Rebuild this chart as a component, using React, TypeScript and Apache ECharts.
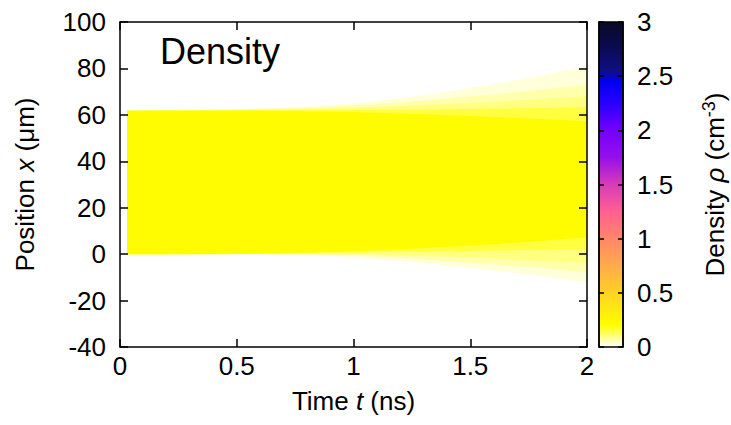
import React, { useEffect, useRef } from "react";
import * as echarts from "echarts";

// Time samples (ns) at which the density band edges were read
const TIMES = [0.03, 0.2, 0.4, 0.6, 0.8, 1.0, 1.2, 1.4, 1.6, 1.8, 2.0];

// Density level of each nested band (outer -> inner core)
const BAND_DENSITY = [0.03, 0.065, 0.1, 0.15, 0.22];

// Upper edge (µm) of each band at TIMES
const BAND_UPPER = [
  [62.0, 62.1, 62.3, 62.7, 63.6, 65.0, 67.2, 70.0, 73.2, 76.8, 81.0],
  [61.9, 62.0, 62.2, 62.5, 63.1, 64.0, 65.3, 67.0, 68.8, 70.8, 73.0],
  [61.9, 62.0, 62.1, 62.3, 62.6, 63.0, 63.8, 64.7, 65.7, 66.8, 68.0],
  [61.8, 61.9, 62.0, 62.1, 62.1, 62.1, 62.2, 62.4, 62.6, 63.0, 63.5],
  [61.8, 61.8, 61.8, 61.8, 61.6, 61.2, 60.6, 59.9, 59.1, 58.2, 57.2],
];

// Lower edge (µm) of each band at TIMES
const BAND_LOWER = [
  [0.0, 0.0, 0.0, -0.1, -0.5, -1.3, -2.8, -4.8, -7.0, -9.4, -12.0],
  [0.0, 0.0, 0.0, 0.0, -0.2, -0.6, -1.6, -2.9, -4.4, -6.0, -7.8],
  [0.0, 0.0, 0.0, 0.1, 0.1, 0.0, -0.4, -1.0, -1.8, -2.8, -3.8],
  [0.0, 0.0, 0.1, 0.2, 0.4, 0.7, 1.0, 1.3, 1.6, 1.9, 2.2],
  [0.0, 0.0, 0.1, 0.3, 0.7, 1.3, 2.1, 3.1, 4.3, 5.7, 7.2],
];

// Colour palette of the density scale
const PALETTE_STOPS: [number, number[]][] = [
  [0.0, [255, 255, 255]],
  [0.2, [255, 255, 0]],
  [0.5, [255, 210, 35]],
  [0.75, [255, 170, 75]],
  [1.0, [255, 135, 105]],
  [1.25, [255, 95, 145]],
  [1.5, [215, 60, 185]],
  [1.75, [150, 15, 235]],
  [2.0, [115, 0, 255]],
  [2.25, [40, 0, 255]],
  [2.45, [0, 0, 240]],
  [2.55, [15, 15, 130]],
  [2.8, [10, 10, 75]],
  [3.0, [10, 10, 35]],
];

const DENSITY_MIN = 0;
const DENSITY_MAX = 3;

const FONT = "'Liberation Sans', Arial, Helvetica, sans-serif";
const FS = 26;

function paletteColor(v: number): string {
  for (let i = 0; i < PALETTE_STOPS.length - 1; i++) {
    const [a, ca] = PALETTE_STOPS[i];
    const [b, cb] = PALETTE_STOPS[i + 1];
    if (v >= a && v <= b) {
      const f = (v - a) / (b - a);
      const c = ca.map((x, k) => Math.round(x + (cb[k] - x) * f));
      return `rgb(${c[0]},${c[1]},${c[2]})`;
    }
  }
  const c = PALETTE_STOPS[PALETTE_STOPS.length - 1][1];
  return `rgb(${c[0]},${c[1]},${c[2]})`;
}

export default function App() {
  const ref = useRef<HTMLDivElement>(null);

  useEffect(() => {
    document.body.style.margin = "0";
    if (!ref.current) return;
    const chart = echarts.init(ref.current, null, { renderer: "svg" });

    const vmColors: string[] = [];
    for (let i = 0; i <= 120; i++) vmColors.push(paletteColor((i / 120) * DENSITY_MAX));

    const gradStops = PALETTE_STOPS.map(([v, c]) => ({
      offset: v / DENSITY_MAX,
      color: `rgb(${c[0]},${c[1]},${c[2]})`,
    }));

    const axisLine = { show: true, onZero: false, lineStyle: { color: "#000", width: 1.5 } };
    const tickLabel = { color: "#000", fontSize: FS, fontFamily: FONT };
    const italic = { fontStyle: "italic", fontSize: FS, fontFamily: FONT, color: "#000" };

    const option: any = {
      animation: false,
      backgroundColor: "#fff",
      grid: [
        { left: 120, top: 22, width: 467, height: 325, outerBoundsMode: "none", containLabel: false },
        {
          left: 599,
          top: 22,
          width: 24,
          height: 325,
          show: true,
          borderColor: "#000",
          borderWidth: 1.5,
          backgroundColor: "transparent",
          outerBoundsMode: "none",
          containLabel: false,
        },
      ],
      visualMap: {
        show: false,
        type: "continuous",
        min: DENSITY_MIN,
        max: DENSITY_MAX,
        dimension: 1,
        seriesIndex: 0,
        inRange: { color: vmColors },
      },
      xAxis: [
        {
          gridIndex: 0,
          type: "value",
          min: 0,
          max: 2,
          interval: 0.5,
          position: "bottom",
          z: 10,
          axisLine,
          axisTick: { show: true, inside: true, length: 8, lineStyle: { color: "#000", width: 1.5 } },
          splitLine: { show: false },
          axisLabel: { ...tickLabel, margin: 6 },
          name: "Time {i|t} (ns)",
          nameLocation: "middle",
          nameGap: 41,
          nameTextStyle: { ...tickLabel, rich: { i: italic } },
        },
        {
          gridIndex: 0,
          type: "value",
          min: 0,
          max: 2,
          interval: 0.5,
          position: "top",
          z: 10,
          axisLine,
          axisTick: { show: true, inside: true, length: 8, lineStyle: { color: "#000", width: 1.5 } },
          splitLine: { show: false },
          axisLabel: { show: false },
        },
        {
          gridIndex: 1,
          type: "value",
          min: 0,
          max: 1,
          show: false,
        },
      ],
      yAxis: [
        {
          gridIndex: 0,
          type: "value",
          min: -40,
          max: 100,
          interval: 20,
          position: "left",
          z: 10,
          axisLine,
          axisTick: { show: true, inside: true, length: 8, lineStyle: { color: "#000", width: 1.5 } },
          splitLine: { show: false },
          axisLabel: { ...tickLabel, margin: 14 },
          name: "Position {i|x} (μm)",
          nameLocation: "middle",
          nameRotate: 90,
          nameGap: 82,
          nameTextStyle: { ...tickLabel, rich: { i: italic } },
        },
        {
          gridIndex: 0,
          type: "value",
          min: -40,
          max: 100,
          interval: 20,
          position: "right",
          z: 10,
          axisLine,
          axisTick: { show: true, inside: true, length: 8, lineStyle: { color: "#000", width: 1.5 } },
          splitLine: { show: false },
          axisLabel: { show: false },
        },
        {
          gridIndex: 1,
          type: "value",
          min: DENSITY_MIN,
          max: DENSITY_MAX,
          interval: 0.5,
          position: "right",
          z: 10,
          axisLine,
          axisTick: { show: true, inside: true, length: 5, lineStyle: { color: "#000", width: 1.5 } },
          splitLine: { show: false },
          axisLabel: { ...tickLabel, margin: 14 },
          name: "Density {i|ρ} (cm{sup|-3})",
          nameLocation: "middle",
          nameRotate: 90,
          nameGap: 77,
          nameTextStyle: {
            ...tickLabel,
            rich: {
              i: italic,
              sup: { fontSize: 18, fontFamily: FONT, color: "#000", verticalAlign: "top", padding: [0, 0, 12, 0] },
            },
          },
        },
        {
          gridIndex: 1,
          type: "value",
          min: DENSITY_MIN,
          max: DENSITY_MAX,
          interval: 0.5,
          position: "left",
          z: 10,
          axisLine,
          axisTick: { show: true, inside: true, length: 5, lineStyle: { color: "#000", width: 1.5 } },
          splitLine: { show: false },
          axisLabel: { show: false },
        },
      ],
      graphic: [
        {
          type: "rect",
          z: -10,
          shape: { x: 599, y: 22, width: 24, height: 325 },
          style: { fill: new echarts.graphic.LinearGradient(0, 1, 0, 0, gradStops) },
          silent: true,
        },
        {
          type: "text",
          x: 160,
          y: 33,
          z: 20,
          style: { text: "Density", fontSize: 36, fontFamily: FONT, fill: "#000", textVerticalAlign: "top" },
        },
      ],
      series: [
        {
          type: "custom",
          coordinateSystem: "cartesian2d",
          xAxisIndex: 0,
          yAxisIndex: 0,
          z: 1,
          silent: true,
          clip: true,
          data: BAND_DENSITY.map((d, i) => [i, d]),
          renderItem: (params: any, api: any) => {
            const i = api.value(0);
            const pts: number[][] = [];
            for (let k = 0; k < TIMES.length; k++) pts.push(api.coord([TIMES[k], BAND_UPPER[i][k]]));
            for (let k = TIMES.length - 1; k >= 0; k--) pts.push(api.coord([TIMES[k], BAND_LOWER[i][k]]));
            return {
              type: "polygon",
              shape: { points: pts },
              style: { fill: api.visual("color"), stroke: "none" },
            };
          },
        },
      ],
    };

    chart.setOption(option);
    return () => chart.dispose();
  }, []);

  return <div ref={ref} style={{ width: 731, height: 425 }} />;
}
